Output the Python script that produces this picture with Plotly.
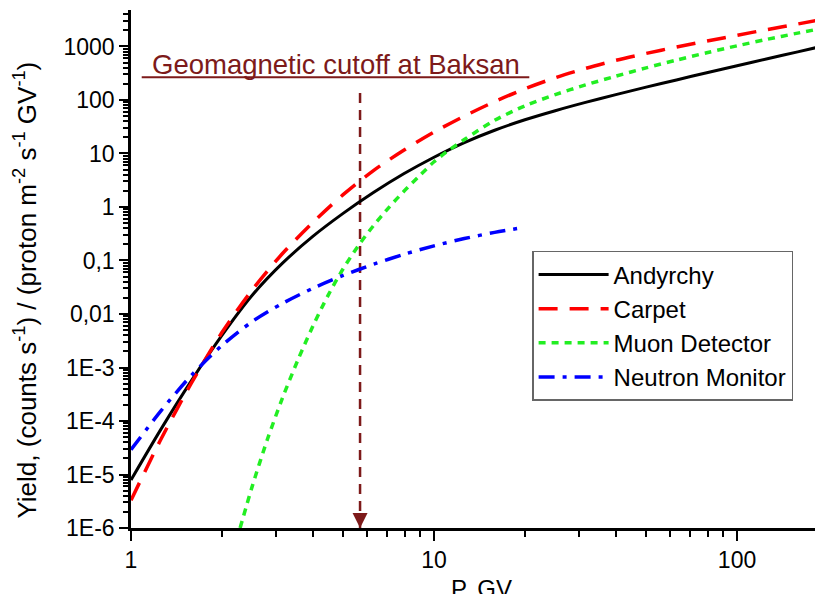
import plotly.graph_objects as go
import numpy as np

# ---- data ----
andyrchy_p = [1.0, 1.259, 1.585, 1.995, 2.512, 3.162, 3.981, 5.012, 6.31, 7.943, 10, 12.59, 15.85,
              19.95, 25.12, 31.62, 39.81, 50.12, 63.1, 79.43, 100, 125.9, 158.5, 199.5]
andyrchy_y = [7.9e-6, 7.2e-5, 5.75e-4, 3.98e-3, 0.0224, 0.089, 0.282, 0.759, 1.86, 4.17, 8.51, 16.0, 27.2,
              42.7, 63.1, 90.2, 126, 174, 237, 324, 437, 589, 794, 1072]

carpet_p = [1.0, 1.259, 1.585, 1.995, 2.512, 3.162, 3.981, 5.012, 6.31, 7.943, 10, 12.59, 15.85,
            19.95, 25.12, 31.62, 39.81, 50.12, 63.1, 79.43, 100, 125.9, 158.5, 199.5]
carpet_y = [3.3e-6, 4.7e-5, 5.2e-4, 4.5e-3, 0.0282, 0.135, 0.513, 1.70, 4.79, 11.5, 25.1, 50.1, 93.3,
            162, 260, 389, 550, 741, 977, 1259, 1622, 2070, 2630, 3390]

muon_p = [2.291, 2.512, 2.818, 3.162, 3.548, 3.981, 4.467, 5.012, 5.623, 6.31, 7.079, 7.943, 8.913,
          10, 11.22, 12.59, 15.85, 19.95, 25.12, 31.62, 39.81, 50.12, 63.1, 79.43, 100, 125.9, 158.5, 199.5]
muon_y = [1e-6, 6.0e-6, 4.5e-5, 2.7e-4, 1.35e-3, 5.9e-3, 0.0221, 0.070, 0.188, 0.447, 0.966, 1.95, 3.72,
          7.0, 11.6, 18.2, 41.7, 77.6, 126, 191, 279, 398, 556, 764, 1030, 1365, 1778, 2290]

neutron_p = [1.0, 1.259, 1.585, 1.995, 2.512, 3.162, 3.981, 5.012, 6.31, 7.943, 10, 12.59, 15.85, 19.95]
neutron_y = [2.9e-5, 1.58e-4, 7.2e-4, 2.57e-3, 7.2e-3, 0.0158, 0.0302, 0.0525, 0.0851, 0.130, 0.188, 0.257, 0.335, 0.417]

cutoff_p = 5.7
cutoff_y = [1e-6, 175]

y_tickvals = [1e-6, 1e-5, 1e-4, 1e-3, 0.01, 0.1, 1, 10, 100, 1000]
y_ticktext = ["1E-6", "1E-5", "1E-4", "1E-3", "0,01", "0,1", "1", "10", "100", "1000"]
x_tickvals = [1, 10, 100]
x_ticktext = ["1", "10", "100"]

FONT = "Arial, Liberation Sans, sans-serif"
MAROON = "#7d1a1a"

fig = go.Figure()

fig.add_trace(go.Scatter(x=[cutoff_p, cutoff_p], y=cutoff_y, mode="lines",
                         line=dict(color=MAROON, width=2.5, dash="10px,7px"),
                         showlegend=False, hoverinfo="skip"))

fig.add_trace(go.Scatter(x=andyrchy_p, y=andyrchy_y, mode="lines", name="Andyrchy",
                         line=dict(color="black", width=3, shape="spline", smoothing=0.8)))
fig.add_trace(go.Scatter(x=carpet_p, y=carpet_y, mode="lines", name="Carpet",
                         line=dict(color="#ff0000", width=3.5, dash="19px,12px", shape="spline", smoothing=0.8)))
fig.add_trace(go.Scatter(x=muon_p, y=muon_y, mode="lines", name="Muon Detector",
                         line=dict(color="#22ee22", width=3.5, dash="7px,6px", shape="spline", smoothing=0.8)))
fig.add_trace(go.Scatter(x=neutron_p, y=neutron_y, mode="lines", name="Neutron Monitor",
                         line=dict(color="#0000ff", width=3.5, dash="16px,8px,4px,8px", shape="spline", smoothing=0.8)))

fig.update_layout(
    width=823, height=594,
    margin=dict(l=123, r=0, t=2, b=74),
    paper_bgcolor="white", plot_bgcolor="white",
    font=dict(family=FONT, color="black", size=23),
    legend=dict(x=0.573, y=0.535, xanchor="left", yanchor="top",
                bordercolor="#666666", borderwidth=1.5, bgcolor="white",
                font=dict(size=24, family=FONT), itemwidth=70, tracegroupgap=0),
    showlegend=True,
)

fig.update_xaxes(type="log", range=[0, 2.310], showline=True, linecolor="black", linewidth=2.5,
                 showgrid=False, zeroline=False, ticks="outside", ticklen=10, tickwidth=2,
                 tickcolor="black", tickvals=x_tickvals, ticktext=x_ticktext,
                 tickfont=dict(size=23, family=FONT),
                 minor=dict(ticks="outside", ticklen=6, tickwidth=1.5, tickcolor="black", dtick="D1", showgrid=False))
fig.update_yaxes(type="log", range=[-6, 3.682], showline=True, linecolor="black", linewidth=2.5,
                 showgrid=False, zeroline=False, ticks="outside", ticklen=9, tickwidth=2,
                 tickcolor="black", tickvals=y_tickvals, ticktext=y_ticktext,
                 tickfont=dict(size=23, family=FONT),
                 minor=dict(ticks="outside", ticklen=5, tickwidth=1.5, tickcolor="black", dtick="D1", showgrid=False))

# cutoff label, underline and arrowhead
fig.add_annotation(text="Geomagnetic cutoff at Baksan", xref="paper", yref="paper",
                   x=0.293, y=0.894, xanchor="center", yanchor="middle", showarrow=False,
                   font=dict(size=27.5, color=MAROON, family=FONT))
fig.add_shape(type="line", xref="paper", yref="paper", x0=0.0153, x1=0.569, y0=0.870, y1=0.870,
              line=dict(color=MAROON, width=2))
fig.add_annotation(x=np.log10(cutoff_p), y=-6, xref="x", yref="y", text="", showarrow=True,
                   ax=0, ay=-16, arrowhead=2, arrowsize=1.2, arrowwidth=2.5, arrowcolor=MAROON)

# axis titles
fig.add_annotation(text="Yield, (counts s<sup>-1</sup>) / (proton m<sup>-2</sup> s<sup>-1</sup> GV<sup>-1</sup>)",
                   xref="paper", yref="paper", x=-0.151, y=0.459, xanchor="center", yanchor="middle",
                   textangle=-90, showarrow=False, font=dict(size=26, family=FONT))
fig.add_annotation(text="P, GV", xref="paper", yref="paper", x=0.5, y=-0.0869, xanchor="center", yanchor="top",
                   showarrow=False, font=dict(size=24, family=FONT))

fig.write_html("out.html")
